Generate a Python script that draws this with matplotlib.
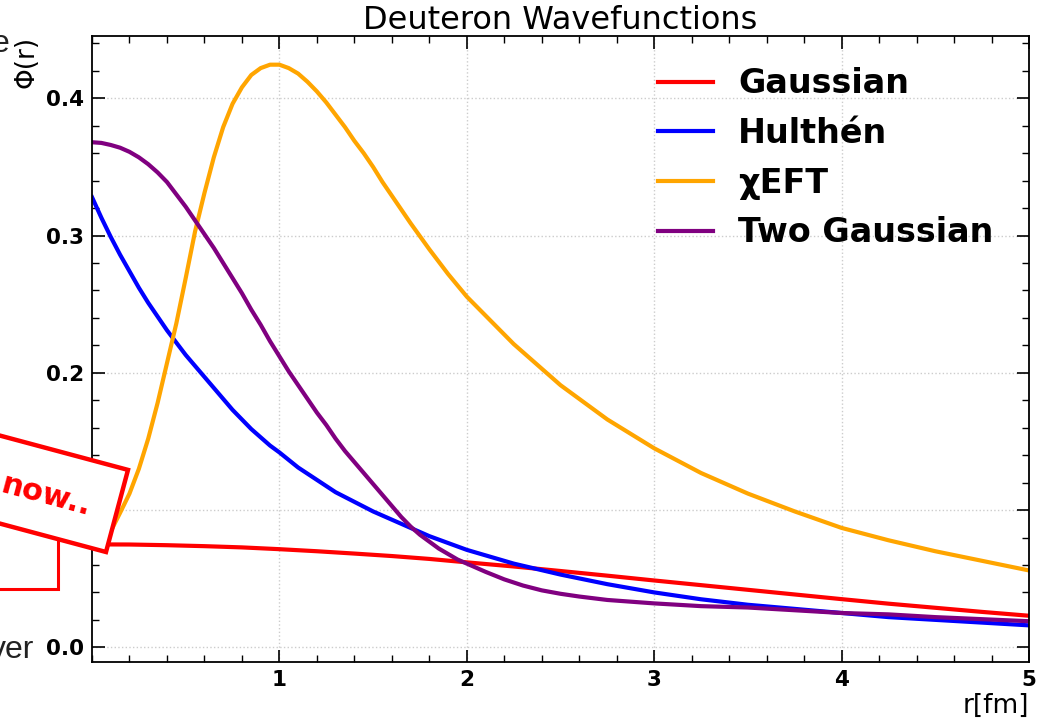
import matplotlib
matplotlib.use("Agg")
import matplotlib.pyplot as plt
from matplotlib.patches import Rectangle
from matplotlib.ticker import MultipleLocator

# values (each curve has its own sample points)
r_gauss = [0.0, 0.2, 0.4, 0.6, 0.8, 1.0, 1.2, 1.4, 1.6, 1.8,
           2.0, 2.25, 2.5, 2.75, 3.0, 3.25, 3.5, 3.75, 4.0, 4.25,
           4.5, 4.75, 5.0]
gaussian = [0.0750, 0.0749, 0.0744, 0.0737, 0.0728, 0.0715, 0.0700, 0.0683, 0.0665, 0.0644,
            0.0619, 0.0589, 0.0556, 0.0522, 0.0487, 0.0453, 0.0419, 0.0385, 0.0351, 0.0318,
            0.0288, 0.0258, 0.0230]

r_hulthen = [0.0, 0.05, 0.1, 0.15, 0.2, 0.25, 0.3, 0.35, 0.4, 0.45,
             0.5, 0.55, 0.6, 0.65, 0.7, 0.75, 0.8, 0.85, 0.9, 0.95,
             1.0, 1.1, 1.2, 1.3, 1.4, 1.5, 1.6, 1.7, 1.8, 1.9,
             2.0, 2.25, 2.5, 2.75, 3.0, 3.25, 3.5, 3.75, 4.0, 4.25,
             4.5, 4.75, 5.0]
hulthen = [0.328, 0.313, 0.299, 0.286, 0.274, 0.262, 0.251, 0.241, 0.231, 0.222,
           0.213, 0.205, 0.197, 0.189, 0.181, 0.173, 0.166, 0.159, 0.153, 0.147,
           0.142, 0.131, 0.122, 0.113, 0.106, 0.099, 0.093, 0.087, 0.081, 0.076,
           0.071, 0.061, 0.053, 0.046, 0.040, 0.035, 0.031, 0.028, 0.025, 0.022,
           0.020, 0.018, 0.016]

r_chi = [0.0, 0.05, 0.1, 0.15, 0.2, 0.25, 0.3, 0.35, 0.4, 0.45,
         0.5, 0.55, 0.6, 0.65, 0.7, 0.75, 0.8, 0.85, 0.9, 0.95,
         1.0, 1.05, 1.1, 1.15, 1.2, 1.25, 1.3, 1.35, 1.4, 1.45,
         1.5, 1.55, 1.6, 1.7, 1.8, 1.9, 2.0, 2.25, 2.5, 2.75,
         3.0, 3.25, 3.5, 3.75, 4.0, 4.25, 4.5, 4.75, 5.0]
chi_eft = [0.073, 0.0775, 0.0845, 0.098, 0.112, 0.130, 0.152, 0.178, 0.207, 0.236,
           0.269, 0.303, 0.331, 0.357, 0.379, 0.396, 0.408, 0.417, 0.422, 0.4245,
           0.4245, 0.422, 0.418, 0.412, 0.405, 0.397, 0.388, 0.379, 0.369, 0.360,
           0.350, 0.339, 0.329, 0.309, 0.290, 0.272, 0.2555, 0.221, 0.191, 0.166,
           0.145, 0.127, 0.112, 0.099, 0.087, 0.078, 0.070, 0.063, 0.056]

r_two = [0.0, 0.05, 0.1, 0.15, 0.2, 0.25, 0.3, 0.35, 0.4, 0.45,
         0.5, 0.55, 0.6, 0.65, 0.7, 0.75, 0.8, 0.85, 0.9, 0.95,
         1.0, 1.05, 1.1, 1.15, 1.2, 1.25, 1.3, 1.35, 1.4, 1.45,
         1.5, 1.55, 1.6, 1.65, 1.7, 1.75, 1.8, 1.85, 1.9, 1.95,
         2.0, 2.1, 2.2, 2.3, 2.4, 2.5, 2.6, 2.75, 3.0, 3.25,
         3.5, 3.75, 4.0, 4.25, 4.5, 4.75, 5.0]
two_gaussian = [0.368, 0.3675, 0.366, 0.364, 0.361, 0.357, 0.352, 0.346, 0.339, 0.330,
                0.321, 0.311, 0.301, 0.291, 0.280, 0.269, 0.258, 0.246, 0.235, 0.223,
                0.212, 0.201, 0.191, 0.181, 0.171, 0.162, 0.152, 0.143, 0.135, 0.127,
                0.119, 0.111, 0.103, 0.095, 0.088, 0.082, 0.077, 0.072, 0.068, 0.064,
                0.061, 0.055, 0.0495, 0.045, 0.0415, 0.039, 0.037, 0.0345, 0.032, 0.030,
                0.029, 0.027, 0.025, 0.024, 0.022, 0.0205, 0.019]

xs = [r_gauss, r_hulthen, r_chi, r_two]
series = [gaussian, hulthen, chi_eft, two_gaussian]
labels = ["Gaussian", "Hulthén", "χEFT", "Two Gaussian"]
colors = ["red", "blue", "orange", "purple"]

W, H = 1039, 724
fig = plt.figure(figsize=(W / 100, H / 100), dpi=100)
ax = fig.add_axes([92 / W, 62 / H, 937 / W, 626 / H])

for x, y, lab, c in zip(xs, series, labels, colors):
    ax.plot(x, y, color=c, lw=3, label=lab, solid_joinstyle="round")

ax.set_xlim(0, 5)
ax.set_ylim(-0.0107, 0.4454)
ax.set_xticks([1, 2, 3, 4, 5])
ax.set_yticks([0.0, 0.1, 0.2, 0.3, 0.4])
ax.xaxis.set_minor_locator(MultipleLocator(0.2))
ax.yaxis.set_minor_locator(MultipleLocator(0.02))
ax.tick_params(which="both", direction="in", top=True, right=True)
ax.tick_params(which="major", length=9, width=1.2, pad=6, labelsize=15.5)
ax.tick_params(which="minor", length=5, width=1)
for lab in ax.get_xticklabels() + ax.get_yticklabels():
    lab.set_fontweight("bold")
for sp in ax.spines.values():
    sp.set_linewidth(1.3)
ax.grid(True, which="major", linestyle=":", color="#cccccc", linewidth=1)

ax.set_title("Deuteron Wavefunctions", fontsize=23, pad=4)
ax.set_xlabel("r[fm]", fontsize=19, loc="right", labelpad=2)
ax.set_ylabel("Φ(r)", fontsize=19, loc="top", labelpad=4)

ax.legend(loc="upper left", bbox_to_anchor=(0.604, 0.950), frameon=False,
          prop={"weight": "bold", "size": 24}, handlelength=1.65,
          handletextpad=0.75, labelspacing=0.5, borderpad=0, borderaxespad=0)

# overlay from the slide the chart was cut from (pixel coords, bottom origin)
tr = fig.dpi_scale_trans
def px(x, y_img):
    return x / 100, (H - y_img) / 100

box2 = Rectangle(px(-100, 589), 158 / 100, 109 / 100, transform=tr,
                 fill=False, edgecolor="red", linewidth=2.2, zorder=9)
fig.add_artist(box2)

w_box, h_box = 200, 85
bl = (106 - w_box * 0.9659, (H - 552) + w_box * 0.2588)
box1 = Rectangle((bl[0] / 100, bl[1] / 100), w_box / 100, h_box / 100, angle=-15,
                 transform=tr, facecolor="white", edgecolor="red", linewidth=3.2,
                 zorder=10)
fig.add_artist(box1)

fig.text(*px(88, 516), "now..", transform=tr, color="red", fontsize=22,
         fontweight="bold", ha="right", va="baseline", rotation=-15,
         rotation_mode="anchor", zorder=11)
fig.text(*px(34, 658), "ver", transform=tr, color="#222222", fontsize=23,
         family="Liberation Sans", ha="right", va="baseline", zorder=11)
fig.text(*px(9, 52), "e", transform=tr, color="#222222", fontsize=23,
         family="Liberation Sans", ha="right", va="baseline", zorder=11)

fig.savefig("out.png", dpi=100)
